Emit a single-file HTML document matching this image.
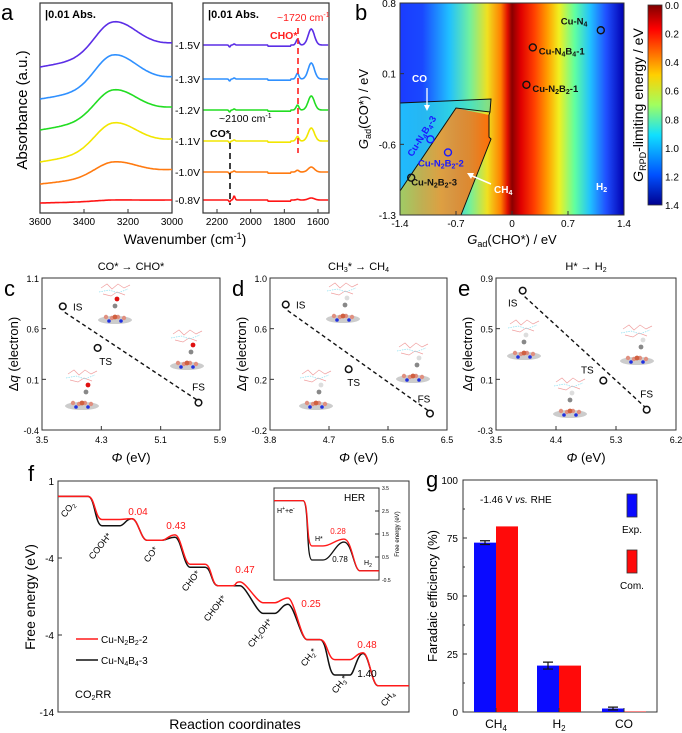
<!DOCTYPE html>
<html><head><meta charset="utf-8"><style>
html,body{margin:0;padding:0;background:#fff}
svg{display:block;font-family:"Liberation Sans",Arial,sans-serif}
</style></head><body>
<svg id="fig" width="682" height="733" viewBox="0 0 682 733" xmlns="http://www.w3.org/2000/svg">
<defs>
<linearGradient id="heat" x1="0" x2="1" y1="0" y2="0">
<stop offset="0" stop-color="#1a3cff"/><stop offset="0.1" stop-color="#1a48ff"/><stop offset="0.22" stop-color="#20c0ff"/><stop offset="0.31" stop-color="#70f0a0"/><stop offset="0.39" stop-color="#f0e020"/><stop offset="0.45" stop-color="#ff8000"/><stop offset="0.48" stop-color="#e01000"/><stop offset="0.5" stop-color="#8a0000"/><stop offset="0.54" stop-color="#e00000"/><stop offset="0.6" stop-color="#ff4000"/><stop offset="0.66" stop-color="#ffa000"/><stop offset="0.71" stop-color="#f0f020"/><stop offset="0.78" stop-color="#60ffa0"/><stop offset="0.85" stop-color="#20c0ff"/><stop offset="0.92" stop-color="#2050ff"/><stop offset="1" stop-color="#0000b0"/>
</linearGradient>
<linearGradient id="cbar" x1="0" x2="0" y1="0" y2="1">
<stop offset="0" stop-color="#800000"/><stop offset="0.12" stop-color="#ff0000"/><stop offset="0.35" stop-color="#ffd000"/><stop offset="0.5" stop-color="#a0ff60"/><stop offset="0.65" stop-color="#10e0ff"/><stop offset="0.85" stop-color="#0050ff"/><stop offset="1" stop-color="#000090"/>
</linearGradient>
<linearGradient id="ch4reg" x1="0" x2="1" y1="0" y2="0">
<stop offset="0" stop-color="#c0f040" stop-opacity="0.8"/><stop offset="0.45" stop-color="#ffa020" stop-opacity="0.85"/><stop offset="1" stop-color="#ff4000" stop-opacity="0.7"/>
</linearGradient>
<linearGradient id="coreg" x1="0" x2="1" y1="0" y2="0">
<stop offset="0" stop-color="#20c8ff" stop-opacity="0.9"/><stop offset="1" stop-color="#40e0c0" stop-opacity="0.6"/>
</linearGradient>
</defs>
<g id="root"></g>
</svg>
<script>
// ---------- data ----------
const aVoltages = ['-1.5V','-1.3V','-1.2V','-1.1V','-1.0V','-0.8V'];
const aColors = ['#5b2ee6','#2f90ff','#22dd22','#f2e600','#ff7a10','#ff1414'];
const aLeftStart = [67,99,130,162,184,203];
const aLeftPeak = [22,55,90,123,162,200];
const aLeftEnd = [44,78,108,140,170,200];
const aRightBase = [45,79,110,141,172,200];
const aRightPeak = [16,16,14,13,5,2];
const aCOBand = [1,1,1,1,1,4];
const aLeftTicks = [3600,3400,3200,3000];
const aRightTicks = [2200,2000,1800,1600];

const bXTicks = [-1.4,-0.7,0,0.7,1.4];
const bYTicks = [0.8,0.1,-0.6,-1.3];
const bCbTicks = [0.0,0.2,0.4,0.6,0.8,1.0,1.2,1.4];
const bPointNames = ['Cu-N4','Cu-N4B4-1','Cu-N2B2-1','Cu-N4B4-3','Cu-N2B2-2','Cu-N2B2-3'];
const bPointX = [1.11,0.26,0.18,-1.02,-0.8,-1.26];
const bPointY = [0.53,0.36,-0.01,-0.55,-0.68,-0.93];

const cPhi = [3.78,4.25,5.61];
const cDq = [0.82,0.41,-0.13];
const dPhi = [4.04,5.0,6.24];
const dDq = [0.79,0.28,-0.07];
const ePhi = [3.9,5.11,5.76];
const eDq = [0.80,0.09,-0.14];
const cXTicks=[3.5,4.3,5.1,5.9], cYTicks=[1.1,0.6,0.1,-0.4];
const dXTicks=[3.8,4.7,5.6,6.5], dYTicks=[1.0,0.6,0.2,-0.2];
const eXTicks=[3.5,4.4,5.3,6.2], eYTicks=[0.9,0.5,0.1,-0.3];

const fStates = ['CO2','COOH*','CO*','CHO*','CHOH*','CH2OH*','CH2*','CH3*','CH4'];
const fRed = [0.0,-1.5,-2.85,-4.4,-5.8,-6.9,-9.3,-10.6,-12.3];
const fBlack = [0.0,-1.9,-2.85,-4.6,-5.8,-7.6,-9.3,-11.6,-12.3];
const fTSRed = [null,-1.45,-2.5,null,-5.55,-6.6,null,-10.15];
const fTSBlack = [null,-1.45,-2.65,null,-5.8,-7.0,null,-10.2];
const fBarrierLabels = ['0.04','0.43','0.47','0.25','0.48'];
const fYTicks = [1,-4,-9,-14];
const fYTickText = ['1','-4','-4','-14'];
const herRed = [2.95,0.98,1.28,-0.1];
const herBlack = [2.95,0.37,1.15,-0.1];
const herTicks = [3.5,2.5,1.5,0.5,-0.5];

const gCats = ['CH4','H2','CO'];
const gExp = [73,20,1.5];
const gErr = [0.8,1.5,0.6];
const gCom = [80,20,0.2];
const gTicks = [0,25,50,75,100];

// ---------- helpers ----------
const NS='http://www.w3.org/2000/svg';
const root=document.getElementById('root');
function mk(tag,attrs,parent){const e=document.createElementNS(NS,tag);for(const k in attrs)e.setAttribute(k,attrs[k]);(parent||root).appendChild(e);return e;}
function txt(s,x,y,size,opts,parent){opts=opts||{};const e=mk('text',{x:x,y:y,'font-size':size,fill:opts.fill||'#000','text-anchor':opts.anchor||'start','font-weight':opts.weight||'normal'},parent);if(opts.rot!==undefined)e.setAttribute('transform','rotate('+opts.rot+' '+x+' '+y+')');e.innerHTML=s;return e;}
function lin(d0,d1,p0,p1){return v=>p0+(v-d0)*(p1-p0)/(d1-d0);}

// ================= PANEL A =================
const gA=mk('g',{});


let t=txt('a',1,20,22,{},gA);

t=txt('Absorbance (a.u.)',27,110,15,{anchor:'middle',rot:-90},gA);

t=txt('Wavenumber (cm<tspan dy="-5" font-size="9">-1</tspan><tspan dy="5">)</tspan>',185,244,14,{anchor:'middle'},gA);

const axL=lin(3600,3000,40,172), axR=lin(2200,1600,217,318);
let b=mk('rect',{x:40,y:3,width:132,height:210,fill:'none',stroke:'#333','stroke-width':1.2},gA);

b=mk('rect',{x:203,y:3,width:126,height:210,fill:'none',stroke:'#333','stroke-width':1.2},gA);

aLeftTicks.forEach(v=>{const x=axL(v);mk('line',{x1:x,x2:x,y1:213,y2:209,stroke:'#333'},gA);const tt=txt(v,x,225,10,{anchor:'middle'},gA);});
aRightTicks.forEach(v=>{const x=axR(v);mk('line',{x1:x,x2:x,y1:213,y2:209,stroke:'#333'},gA);const tt=txt(v,x,225,10,{anchor:'middle'},gA);});
aVoltages.forEach((vl,i)=>{
  const s=aLeftStart[i],p=aLeftPeak[i],e=aLeftEnd[i];
  const baseMid=s+(e-s)*((3270-3600)/(3000-3600));
  const amp=baseMid-p;
  let d='';
  for(let w=3600;w>=3000;w-=5){const base=s+(e-s)*((w-3600)/(3000-3600));const sg=w>3270?115:150;const g=Math.exp(-Math.pow((w-3270)/sg,2));const y=base-amp*g;d+=(w===3600?'M':'L')+axL(w).toFixed(1)+' '+y.toFixed(1);}
  const pl=mk('path',{d:d,fill:'none',stroke:aColors[i],'stroke-width':1.6},gA);
  
  let dr='';const rb=aRightBase[i],rp=aRightPeak[i],co=aCOBand[i];
  for(let w=2280;w>=1540;w-=4){const g1=Math.exp(-Math.pow((w-1640)/26,2));const g2=Math.exp(-Math.pow((w-1722)/12,2));const dip=Math.exp(-Math.pow((w-2125)/6,2));const cb=Math.exp(-Math.pow((w-2098)/7,2));const sl=(w<1900&&w>1760)?1.2:0;const y=rb-rp*g1-rp*0.35*g2+2*dip-co*cb+sl;dr+=(w===2280?'M':'L')+Math.min(329,Math.max(203,axR(w))).toFixed(1)+' '+y.toFixed(1);}
  const pr=mk('path',{d:dr,fill:'none',stroke:aColors[i],'stroke-width':1.6},gA);
  
  const lt=txt(vl,175,aRightBase[i]+4,10.5,{},gA);
  
});
['45','208'].forEach(x=>{const tt=txt('|0.01 Abs.',+x,18,11,{weight:'bold'},gA);});
mk('line',{x1:298,x2:298,y1:28,y2:153,stroke:'#ff2020','stroke-width':1.6,'stroke-dasharray':'6,4'},gA);
mk('line',{x1:230,x2:230,y1:133,y2:205,stroke:'#111','stroke-width':1.6,'stroke-dasharray':'6,4'},gA);
t=txt('~1720 cm<tspan dy="-4" font-size="7">-1</tspan>',277,21,10.5,{fill:'#ff2020'},gA);
t=txt('CHO*',270,39,10.5,{fill:'#ff2020',weight:'bold'},gA);
t=txt('~2100 cm<tspan dy="-4" font-size="7">-1</tspan>',219,122,10.5,{},gA);
t=txt('CO*',210,137,10.5,{weight:'bold'},gA);

// ================= PANEL B =================
const gB=mk('g',{});

const bx=lin(-1.4,1.4,400,624), by=lin(0.8,-1.3,3,215);
t=txt('b',355,20,22,{},gB);
let hm=mk('rect',{x:400,y:3,width:224,height:212,fill:'url(#heat)'},gB);

let creg=mk('polygon',{points:'400,103 491,99 490,112 456,108 400,191',fill:'url(#coreg)'},gB);

let reg=mk('polygon',{points:'456,108 489,115 489,137 491,139 461,215 400,215 400,191',fill:'url(#ch4reg)'},gB);

mk('polyline',{points:'400,103 491,99 490,112 456,108 400,191',fill:'none',stroke:'#111','stroke-width':1},gB);
mk('polyline',{points:'490,112 489,115 489,137 491,139 461,215',fill:'none',stroke:'#111','stroke-width':1},gB);
mk('rect',{x:400,y:3,width:224,height:212,fill:'none',stroke:'#333','stroke-width':1},gB);
bXTicks.forEach(v=>{const x=bx(v);mk('line',{x1:x,x2:x,y1:215,y2:211,stroke:'#333'},gB);const tt=txt(v,x,227,10,{anchor:'middle'},gB);});
bYTicks.forEach(v=>{const y=by(v);mk('line',{x1:400,x2:404,y1:y,y2:y,stroke:'#333'},gB);const tt=txt(v.toFixed(1),396,y+4,10,{anchor:'end'},gB);});
t=txt('<tspan font-style="italic">G</tspan><tspan font-size="9" dy="3">ad</tspan><tspan dy="-3">(CHO*) / eV</tspan>',512,244,13,{anchor:'middle'},gB);
t=txt('<tspan font-style="italic">G</tspan><tspan font-size="9" dy="3">ad</tspan><tspan dy="-3">(CO*) / eV</tspan>',368,109,13,{anchor:'middle',rot:-90},gB);
const bLabelDx=[-40,6,6,-10,-30,0], bLabelDy=[-6,7,7,-12,14,8];
const bLabelHTML=['Cu-N<tspan font-size="7" dy="2">4</tspan>','Cu-N<tspan font-size="7" dy="2">4</tspan><tspan dy="-2">B</tspan><tspan font-size="7" dy="2">4</tspan><tspan dy="-2">-1</tspan>','Cu-N<tspan font-size="7" dy="2">2</tspan><tspan dy="-2">B</tspan><tspan font-size="7" dy="2">2</tspan><tspan dy="-2">-1</tspan>','Cu-N<tspan font-size="7" dy="2">4</tspan><tspan dy="-2">B</tspan><tspan font-size="7" dy="2">4</tspan><tspan dy="-2">-3</tspan>','Cu-N<tspan font-size="7" dy="2">2</tspan><tspan dy="-2">B</tspan><tspan font-size="7" dy="2">2</tspan><tspan dy="-2">-2</tspan>','Cu-N<tspan font-size="7" dy="2">2</tspan><tspan dy="-2">B</tspan><tspan font-size="7" dy="2">2</tspan><tspan dy="-2">-3</tspan>'];
bPointNames.forEach((n,i)=>{
  const col=(i===3||i===4)?'#1a1aff':'#111';
  const c=mk('circle',{cx:bx(bPointX[i]),cy:by(bPointY[i]),r:3.5,fill:'none',stroke:col,'stroke-width':1.4},gB);
  
  let lx=bx(bPointX[i])+bLabelDx[i], ly=by(bPointY[i])+bLabelDy[i];
  const tt=txt(bLabelHTML[i],lx,ly,9.5,{fill:col,weight:'bold'},gB);
  if(i===3){tt.setAttribute('transform','rotate(-58 '+(lx-8)+' '+(ly+30)+')');tt.setAttribute('x',lx-8);tt.setAttribute('y',ly+30);}
  
});
t=txt('CO',412,82,10,{fill:'#fff',weight:'bold'},gB);
mk('line',{x1:427,x2:427,y1:88,y2:108,stroke:'#fff','stroke-width':1.3},gB);
mk('polygon',{points:'424,105 430,105 427,111',fill:'#fff'},gB);
t=txt('CH<tspan font-size="7" dy="2">4</tspan>',494,193,10,{fill:'#fff',weight:'bold'},gB);
mk('line',{x1:491,x2:470,y1:184,y2:175,stroke:'#fff','stroke-width':1.5},gB);
mk('polygon',{points:'467,173 474,173 471,179',fill:'#fff'},gB);
t=txt('H<tspan font-size="7" dy="2">2</tspan>',596,190,10,{fill:'#fff',weight:'bold'},gB);
const cb=mk('rect',{x:648,y:5,width:14,height:200,fill:'url(#cbar)',stroke:'#333','stroke-width':0.8},gB);

const cby=lin(0,1.4,5,205);
bCbTicks.forEach(v=>{const tt=txt(v.toFixed(1),665,cby(v)+4,10,{},gB);});
t=txt('<tspan font-style="italic">G</tspan><tspan font-size="9" dy="3">RPD</tspan><tspan dy="-3">-limiting energy / eV</tspan>',643,105,14,{anchor:'middle',rot:-90},gB);

// ================= PANELS C/D/E =================
function scatterPanel(name,letter,L,R,xT,yT,phi,dq,title,molecules,lOff){
  const g=mk('g',{});
  
  const T=278,B=430;
  const sx=lin(xT[0],xT[xT.length-1],L,R), sy=lin(yT[0],yT[yT.length-1],T,B);
  let lt=txt(letter,L-38,296,22,{},g);
  let tt=txt(title,(L+R)/2,270,11,{anchor:'middle'},g);
  molecules.forEach(m=>{
    const mg=mk('g',{transform:'translate('+m[0]+','+m[1]+')'},g);
    
    mk('ellipse',{cx:0,cy:14,rx:17,ry:4,fill:'#ccc'},mg);
    mk('path',{d:'M-14 -18 l6 -4 l5 5 l6 -5 l6 4 l6 -3 M-12 -12 l8 2 l6 -4 l8 3',fill:'none',stroke:'#f0a0a0','stroke-width':0.7},mg);
    mk('path',{d:'M-16 -14 l10 -2 l9 3 l10 -4',fill:'none',stroke:'#8ee0f0','stroke-width':0.7,'stroke-dasharray':'1.5,1'},mg);
    [[-9,11],[-3,12],[3,11],[9,12]].forEach(p=>mk('circle',{cx:p[0],cy:p[1],r:2.2,fill:'#e09080'},mg));
    mk('circle',{cx:0,cy:11,r:2.4,fill:'#d06040'},mg);
    mk('circle',{cx:-6,cy:15,r:1.8,fill:'#2030e0'},mg);mk('circle',{cx:6,cy:15,r:1.8,fill:'#2030e0'},mg);
    mk('circle',{cx:m[2],cy:0,r:2.4,fill:'#888'},mg);
    mk('circle',{cx:m[2]+2,cy:-7,r:2.4,fill:m[3]},mg);
  });
  mk('rect',{x:L,y:T,width:R-L,height:B-T,fill:'none',stroke:'#333','stroke-width':1},g);
  xT.forEach(v=>{const x=sx(v);mk('line',{x1:x,x2:x,y1:B,y2:B-4,stroke:'#333'},g);const k=txt(v.toFixed(1),x,443,9,{anchor:'middle'},g);});
  yT.forEach(v=>{const y=sy(v);mk('line',{x1:L,x2:L+4,y1:y,y2:y,stroke:'#333'},g);const k=txt(v.toFixed(1),L-3,y+4,9,{anchor:'end'},g);});
  let ln=mk('line',{x1:sx(phi[0])+2,y1:sy(dq[0])+6,x2:sx(phi[2])-2,y2:sy(dq[2])-3,stroke:'#111','stroke-width':1.4,'stroke-dasharray':'4,3'},g);
  
  const labs=['IS','TS','FS'];
  phi.forEach((p,i)=>{
    const c=mk('circle',{cx:sx(p),cy:sy(dq[i]),r:3.3,fill:'#fff',stroke:'#111','stroke-width':1.5},g);
    
    const k=txt(labs[i],sx(p)+lOff[i][0],sy(dq[i])+lOff[i][1],10,{anchor:'middle'},g);
    
  });
  let yt=txt('Δ<tspan font-style="italic">q</tspan> (electron)',L-24,(T+B)/2,13,{anchor:'middle',rot:-90},g);
  
  let xt=txt('<tspan font-style="italic">Φ</tspan> (eV)',(L+R)/2,462,13,{anchor:'middle'},g);
  
}
scatterPanel('c','c',42,220,cXTicks,cYTicks,cPhi,cDq,'CO* → CHO*',[[115,306,0,'#e01010'],[187,352,4,'#e01010'],[82,392,4,'#e01010']],[[15,4],[8,17],[0,-12]]);
scatterPanel('d','d',270,447,dXTicks,dYTicks,dPhi,dDq,'CH<tspan font-size="7" dy="2">3</tspan><tspan dy="-2">* → CH</tspan><tspan font-size="7" dy="2">4</tspan>',[[343,305,2,'#ddd'],[413,365,4,'#ddd'],[316,392,3,'#ddd']],[[15,4],[5,17],[-6,-11]]);
scatterPanel('e','e',496,676,eXTicks,eYTicks,ePhi,eDq,'H* → H<tspan font-size="7" dy="2">2</tspan>',[[524,342,0,'#ddd'],[637,347,4,'#ddd'],[570,400,0,'#ddd']],[[-10,16],[-16,-7],[0,-12]]);

// ================= PANEL F =================
const gF=mk('g',{});

const fy=lin(1,-14,481,712);
t=txt('f',28,481,22,{},gF);
mk('rect',{x:58,y:481,width:351,height:231,fill:'none',stroke:'#333','stroke-width':1},gF);
fYTicks.forEach((v,i)=>{const y=fy(v);mk('line',{x1:58,x2:62,y1:y,y2:y,stroke:'#333'},gF);const k=txt(fYTickText[i],54,y+4,10,{anchor:'end'},gF);});
t=txt('Free energy (eV)',35,597,14,{anchor:'middle',rot:-90},gF);
t=txt('Reaction coordinates',235,729,14,{anchor:'middle'},gF);
const plStart=[58,102,147,190,218,263,307,335,378], plEnd=[88,120,162,205,233,275,320,350,409];
const tsX=[null,132,175,null,240,288,null,363];
function profile(levels,ts){
  let d='M'+plStart[0]+' '+fy(levels[0]).toFixed(1)+' L'+plEnd[0]+' '+fy(levels[0]).toFixed(1);
  for(let i=0;i<levels.length-1;i++){
    const y0=fy(levels[i]), y1=fy(levels[i+1]);
    if(i>0) d+=' L'+plEnd[i]+' '+y0.toFixed(1);
    if(ts[i]!==null && ts[i]!==undefined && tsX[i]){
      const yt=fy(ts[i]), xt=tsX[i];
      d+=' C'+(plEnd[i]+4)+' '+y0.toFixed(1)+' '+(xt-6)+' '+yt.toFixed(1)+' '+xt+' '+yt.toFixed(1);
      d+=' C'+(xt+6)+' '+yt.toFixed(1)+' '+(plStart[i+1]-6)+' '+y1.toFixed(1)+' '+plStart[i+1]+' '+y1.toFixed(1);
    } else {
      const m=(plEnd[i]+plStart[i+1])/2;
      d+=' C'+m+' '+y0.toFixed(1)+' '+m+' '+y1.toFixed(1)+' '+plStart[i+1]+' '+y1.toFixed(1);
    }
  }
  d+=' L'+plEnd[levels.length-1]+' '+fy(levels[levels.length-1]).toFixed(1);
  return d;
}
const tsR=[null].concat(fTSRed.slice(1)), tsB=[null].concat(fTSBlack.slice(1));
let pb=mk('path',{d:profile(fBlack,tsB),fill:'none',stroke:'#111','stroke-width':1.5},gF);

let pr=mk('path',{d:profile(fRed,tsR),fill:'none',stroke:'#ff1a1a','stroke-width':1.5},gF);

const stLab=['CO<tspan font-size="6" dy="2">2</tspan>','COOH*','CO*','CHO*','CHOH*','CH<tspan font-size="6" dy="2">2</tspan><tspan dy="-2">OH*</tspan>','CH<tspan font-size="6" dy="2">2</tspan><tspan dy="-2">*</tspan>','CH<tspan font-size="6" dy="2">3</tspan><tspan dy="-2">*</tspan>','CH<tspan font-size="6" dy="2">4</tspan>'];
const stX=[65,93,148,186,208,252,305,336,385], stY=[518,560,563,592,622,648,667,694,707];
stLab.forEach((s,i)=>{const k=txt(s,stX[i],stY[i],9,{rot:-52},gF);});
const blX=[138,176,245,311,367], blY=[515,529,573,607,648];
fBarrierLabels.forEach((s,i)=>{const k=txt(s,blX[i],blY[i],10,{fill:'#ff1a1a',anchor:'middle'},gF);});
t=txt('1.40',367,677,10,{anchor:'middle'},gF);
mk('line',{x1:76,x2:98,y1:639,y2:639,stroke:'#ff1a1a','stroke-width':1.5},gF);
t=txt('Cu-N<tspan font-size="7" dy="2">2</tspan><tspan dy="-2">B</tspan><tspan font-size="7" dy="2">2</tspan><tspan dy="-2">-2</tspan>',101,643,10,{},gF);
mk('line',{x1:76,x2:98,y1:660,y2:660,stroke:'#111','stroke-width':1.5},gF);
t=txt('Cu-N<tspan font-size="7" dy="2">4</tspan><tspan dy="-2">B</tspan><tspan font-size="7" dy="2">4</tspan><tspan dy="-2">-3</tspan>',101,664,10,{},gF);
t=txt('CO<tspan font-size="7" dy="2">2</tspan><tspan dy="-2">RR</tspan>',75,698,11,{},gF);
// inset
const gI=mk('g',{},gF);

mk('rect',{x:274,y:488,width:105,height:92,fill:'#fff',stroke:'#333','stroke-width':1},gI);
const iy=lin(3.5,-0.5,488,580);
herTicks.forEach(v=>{const y=iy(v);mk('line',{x1:379,x2:375,y1:y,y2:y,stroke:'#333'},gI);const k=txt(v,382,y+2,5,{},gI);});
t=txt('Free energy (eV)',399,534,6,{anchor:'middle',rot:-90},gI);
function herPath(v){const a=iy(v[0]),h=iy(v[1]),s=iy(v[2]),e=iy(v[3]);
  return 'M274 '+a+' L303 '+a+' C309 '+a+' 306 '+h+' 312 '+h+' L323 '+h+' C331 '+h+' 336 '+s+' 344 '+s+' C352 '+s+' 354 '+e+' 360 '+e+' L379 '+e;}
let hb=mk('path',{d:herPath(herBlack),fill:'none',stroke:'#111','stroke-width':1.3},gI);

let hr=mk('path',{d:herPath(herRed),fill:'none',stroke:'#ff1a1a','stroke-width':1.3},gI);

t=txt('HER',344,501,10,{},gI);
t=txt('H<tspan font-size="5" dy="-3">+</tspan><tspan dy="3">+e</tspan><tspan font-size="5" dy="-3">-</tspan>',277,513,7,{},gI);
t=txt('H*',315,541,7,{},gI);
t=txt('H<tspan font-size="5" dy="2">2</tspan>',364,565,7,{},gI);
t=txt('0.28',338,534,8,{fill:'#ff1a1a',anchor:'middle'},gI);
t=txt('0.78',340,562,8,{anchor:'middle'},gI);

// ================= PANEL G =================
const gG=mk('g',{});

const gy=lin(0,100,712,480);
const gCenters=[496,559,624];
t=txt('g',426,487,22,{},gG);
mk('rect',{x:463,y:480,width:194,height:232,fill:'none',stroke:'#333','stroke-width':1},gG);
for(let v=0;v<=100;v+=12.5){const y=gy(v);mk('line',{x1:463,x2:(v%25===0?467:465),y1:y,y2:y,stroke:'#333'},gG);}
gTicks.forEach(v=>{const k=txt(v,458,gy(v)+4,10,{anchor:'end'},gG);});
gCats.forEach((c,i)=>{
  const cx=gCenters[i];
  const be=mk('rect',{x:cx-22,y:gy(gExp[i]),width:22,height:712-gy(gExp[i]),fill:'#0a0aff'},gG);
  
  const bc=mk('rect',{x:cx,y:gy(gCom[i]),width:22,height:712-gy(gCom[i]),fill:'#ff0a0a'},gG);
  
  const eb=mk('path',{d:'M'+(cx-11)+' '+gy(gExp[i]+gErr[i])+' L'+(cx-11)+' '+gy(gExp[i]-gErr[i])+' M'+(cx-16)+' '+gy(gExp[i]+gErr[i])+' L'+(cx-6)+' '+gy(gExp[i]+gErr[i])+' M'+(cx-16)+' '+gy(gExp[i]-gErr[i])+' L'+(cx-6)+' '+gy(gExp[i]-gErr[i]),stroke:'#111','stroke-width':1.2,fill:'none'},gG);
  
  mk('line',{x1:cx,x2:cx,y1:712,y2:708,stroke:'#333'},gG);
});
const catHTML=['CH<tspan font-size="8" dy="3">4</tspan>','H<tspan font-size="8" dy="3">2</tspan>','CO'];
catHTML.forEach((s,i)=>{const k=txt(s,gCenters[i],728,12,{anchor:'middle'},gG);});
t=txt('Faradaic efficiency (%)',437,596,13,{anchor:'middle',rot:-90},gG);
t=txt('-1.46 V <tspan font-style="italic">vs.</tspan> RHE',480,503,10,{},gG);
let lg=mk('rect',{x:627,y:494,width:10,height:23,fill:'#0a0aff',stroke:'#333','stroke-width':0.8},gG);

t=txt('Exp.',632,533,10,{anchor:'middle'},gG);
lg=mk('rect',{x:627,y:550,width:10,height:23,fill:'#ff0a0a',stroke:'#333','stroke-width':0.8},gG);

t=txt('Com.',632,589,10,{anchor:'middle'},gG);
</script>
</body></html>
